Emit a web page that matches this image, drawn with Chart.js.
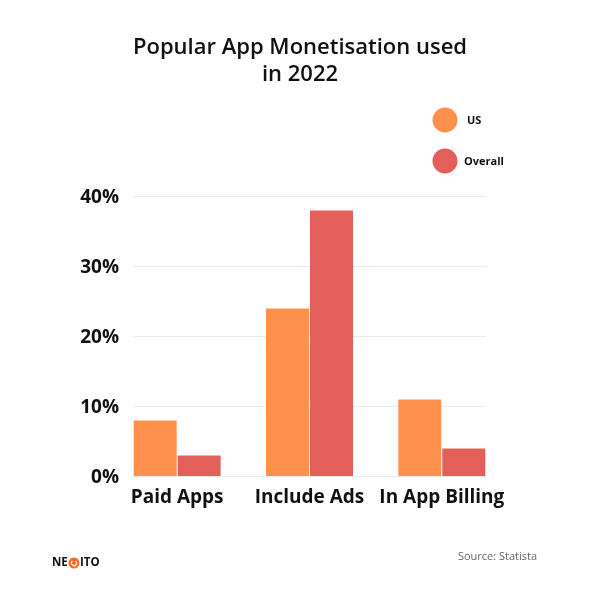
<!DOCTYPE html>
<html>
<head>
<meta charset="utf-8">
<script src="https://cdn.jsdelivr.net/npm/chart.js@4"></script>
<style>
  html, body { margin: 0; padding: 0; background: #fff; }
  #wrap { width: 600px; height: 600px; position: relative; }
</style>
</head>
<body>
<div id="wrap"><canvas id="monetChart" width="600" height="600"></canvas></div>
<script>
// data
const categories = ['Paid Apps', 'Include Ads', 'In App Billing'];
const usValues = [8, 24, 11];
const overallValues = [3, 38, 4];
const seriesNames = ['US', 'Overall'];
const seriesColors = ['#FF914D', '#E35F59'];
const yTicks = [0, 10, 20, 30, 40];

// title, legend, footer, y labels and shortened gridlines
const decorPlugin = {
    id: 'decor',
    beforeDatasetsDraw(chart) {
        const ctx = chart.ctx;
        const y = chart.scales.y;
        const m0 = chart.getDatasetMeta(0).data[0];
        const m1 = chart.getDatasetMeta(1).data[categories.length - 1];
        const left = m0.x - m0.width / 2;
        const right = m1.x + m1.width / 2;
        ctx.save();
        ctx.strokeStyle = '#ebebeb';
        ctx.lineWidth = 1;
        ctx.fillStyle = '#111';
        ctx.font = 'bold 19px "Open Sans"';
        ctx.textAlign = 'right';
        ctx.textBaseline = 'middle';
        yTicks.forEach(t => {
            const py = Math.round(y.getPixelForValue(t)) + 0.5;
            ctx.beginPath();
            ctx.moveTo(left, py);
            ctx.lineTo(right, py);
            ctx.stroke();
            ctx.fillText(t + '%', 119, py + 1);
        });
        ctx.restore();
    },
    afterDraw(chart) {
        const ctx = chart.ctx;
        ctx.save();
        // title
        ctx.fillStyle = '#111';
        ctx.textAlign = 'center';
        ctx.textBaseline = 'middle';
        ctx.font = '600 22px "Open Sans"';
        ctx.fillText('Popular App Monetisation used', 300, 48);
        ctx.fillText('in 2022', 300, 75);
        // legend
        chart.data.datasets.forEach((ds, i) => {
            const cy = 120 + i * 41;
            ctx.fillStyle = ds.backgroundColor;
            ctx.beginPath();
            ctx.arc(445, cy, 12.5, 0, Math.PI * 2);
            ctx.fill();
            ctx.fillStyle = '#111';
            ctx.textAlign = 'left';
            ctx.font = 'bold 11px "Open Sans"';
            ctx.fillText(ds.label, i === 0 ? 467 : 464, cy + 1);
        });
        // source
        ctx.fillStyle = '#666';
        ctx.font = '11px "Open Sans"';
        ctx.textAlign = 'right';
        ctx.fillText('Source: Statista', 537, 557);
        // logo
        ctx.textAlign = 'left';
        ctx.fillStyle = '#111';
        ctx.font = 'bold 11.5px "Open Sans"';
        ctx.fillText('NE', 52, 563);
        ctx.fillStyle = '#F26B2A';
        ctx.beginPath();
        ctx.arc(74, 563, 5.5, 0, Math.PI * 2);
        ctx.fill();
        ctx.strokeStyle = '#fff';
        ctx.lineWidth = 1.2;
        ctx.beginPath();
        ctx.arc(74, 563, 2.6, -Math.PI * 0.3, Math.PI * 1.3);
        ctx.stroke();
        ctx.fillStyle = '#111';
        ctx.fillText('ITO', 80, 563);
        ctx.restore();
    }
};

const ctx = document.getElementById('monetChart').getContext('2d');
const monetChart = new Chart(ctx, {
    type: 'bar',
    data: {
        labels: categories,
        datasets: [{
            label: seriesNames[0],
            data: usValues,
            backgroundColor: seriesColors[0],
            borderColor: 'rgba(255,255,255,0.5)',
            borderWidth: 0.5
        }, {
            label: seriesNames[1],
            data: overallValues,
            backgroundColor: seriesColors[1],
            borderColor: 'rgba(255,255,255,0.5)',
            borderWidth: 0.5
        }]
    },
    options: {
        responsive: false,
        animation: false,
        categoryPercentage: 0.665,
        barPercentage: 1,
        layout: {
            padding: { top: 196, right: 92, bottom: 0, left: 0 }
        },
        scales: {
            y: {
                min: 0,
                max: 40,
                afterFit(scale) { scale.width = 111; },
                afterBuildTicks(scale) { scale.ticks = yTicks.map(v => ({ value: v })); },
                border: { display: false },
                grid: { display: false, drawTicks: false },
                ticks: { display: false }
            },
            x: {
                afterFit(scale) { scale.height = 124; },
                border: { display: false },
                grid: { display: false, drawTicks: false },
                ticks: {
                    padding: 10,
                    color: '#111',
                    font: { family: 'Open Sans', size: 19, weight: 'bold' }
                }
            }
        },
        plugins: {
            legend: { display: false },
            title: { display: false },
            tooltip: { enabled: false }
        }
    },
    plugins: [decorPlugin]
});
</script>
</body>
</html>
